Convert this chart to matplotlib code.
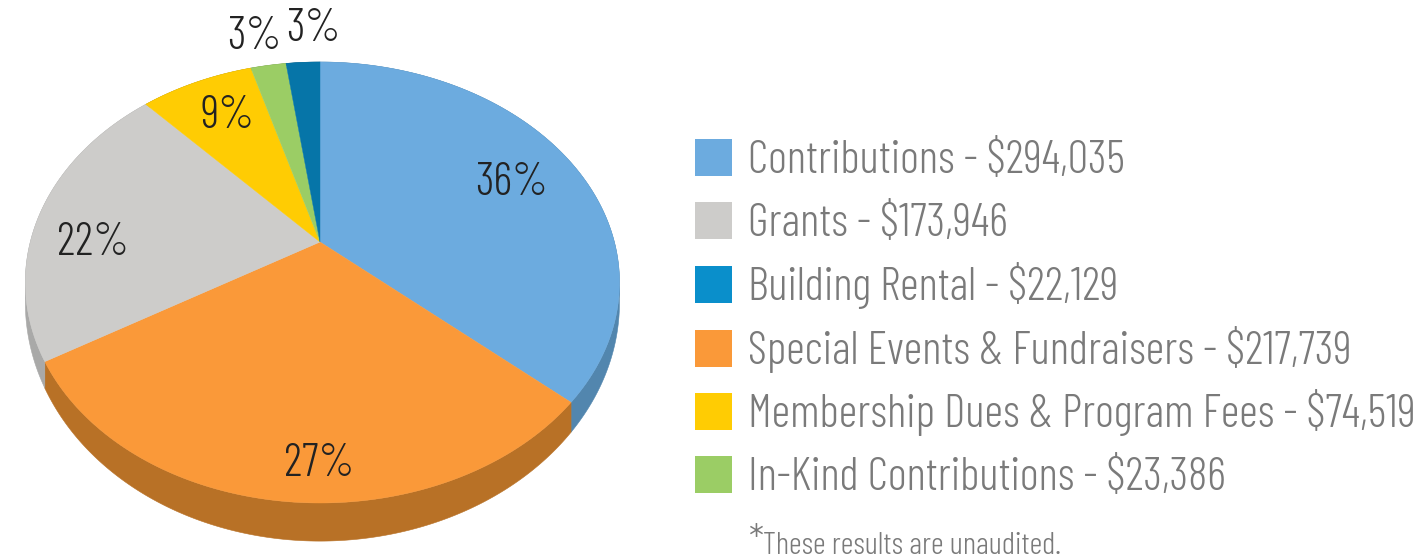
import numpy as np
import matplotlib
matplotlib.use("Agg")
import matplotlib.pyplot as plt
from matplotlib import font_manager as fm
from matplotlib.patches import Rectangle
from matplotlib.transforms import Transform

categories = ["Contributions", "Grants", "Building Rental",
              "Special Events & Fundraisers", "Membership Dues & Program Fees",
              "In-Kind Contributions"]
amounts = [294035, 173946, 22129, 217739, 74519, 23386]
legend_colors = ["#6CABDF", "#CDCCCA", "#0A8FCB", "#FA9939", "#FFCC03", "#9BCD65"]

# slices clockwise from 12 o'clock, share of the circle as drawn in the picture
slice_names = ["Contributions", "Special Events", "Grants", "Membership", "In-Kind", "Building"]
slice_shares = [36.5, 30.0, 21.6, 7.4, 2.3, 2.2]
slice_labels = ["36%", "27%", "22%", "9%", "3%", "3%"]
top_colors = ["#6CABDF", "#FA9939", "#CDCCCA", "#FFCC03", "#9BCD65", "#0675A8"]
rim_colors = ["#5286AE", "#B87126", "#A9A9A8", "#B89300", "#6F9448", "#05557A"]
label_xy = [(512, 183), (319, 464), (93, 243), (228, 116), (254, 37), (313, 29)]


class Perspective(Transform):
    input_dims = output_dims = 2

    def __init__(self, a, b, c=0.1837, k=292.0, x0=320.0, h=-0.008):
        super().__init__()
        self.a, self.b, self.c, self.k, self.x0, self.h = a, b, c, k, x0, h

    def transform_non_affine(self, values):
        u, v = np.asarray(values, float).T
        d = 1 + self.c * v
        x = self.x0 + self.k * u / (d + self.h * u)
        y = (self.a * v + self.b) / d
        return np.column_stack([x, y])


fig = plt.figure(figsize=(14.21, 5.58), dpi=100)
ax = fig.add_axes([0, 0, 1, 1])
ax.set_xlim(0, 1421)
ax.set_ylim(558, 0)
ax.axis("off")

top_plane = Perspective(-168.6, 242.0)
low_plane = Perspective(-183.0, 258.7)
top_tr = top_plane + ax.transData

edges = np.cumsum([0] + slice_shares) / sum(slice_shares) * 2 * np.pi
for i in range(len(slice_shares)):
    t = np.linspace(edges[i], edges[i + 1], 240)
    u, v = np.sin(t), np.cos(t)
    upts = top_plane.transform_non_affine(np.column_stack([u, v]))
    lpts = low_plane.transform_non_affine(np.column_stack([u, v]))
    band = np.vstack([upts, lpts[::-1]])
    ax.fill(band[:, 0], band[:, 1], color=rim_colors[i], lw=0.4, zorder=1)
for i in range(len(slice_shares)):
    t = np.linspace(edges[i], edges[i + 1], 240)
    ax.fill(np.r_[0, np.sin(t)], np.r_[0, np.cos(t)], color=top_colors[i],
            lw=0.3, transform=top_tr, zorder=2)

installed = {f.name for f in fm.fontManager.ttflist}
if "Barlow Condensed" in installed:
    FONT, scale = "Barlow Condensed", 1.0
else:
    FONT, scale = "Roboto", 0.76
TEXT = dict(family=FONT, weight=300)

for lab, (x, y) in zip(slice_labels, label_xy):
    ax.text(x, y, lab, ha="center", va="center", fontsize=33 * scale,
            color="#222222", zorder=3, **TEXT)

swatch_y = [139, 202, 266, 330, 393, 456]
for name, amt, col, y in zip(categories, amounts, legend_colors, swatch_y):
    ax.add_patch(Rectangle((695, y), 37, 37, facecolor=col, edgecolor="none"))
    ax.text(748, y + 34, f"{name} - ${amt:,}", ha="left", va="baseline",
            fontsize=33 * scale, color="#7a7a7a", **TEXT)

ax.text(749, 553, "*", ha="left", va="baseline", fontsize=30 * scale, color="#7a7a7a", **TEXT)
ax.text(763, 554, "These results are unaudited.", ha="left", va="baseline",
        fontsize=22.7 * scale, color="#7a7a7a", **TEXT)

fig.savefig("out.png", dpi=100)
